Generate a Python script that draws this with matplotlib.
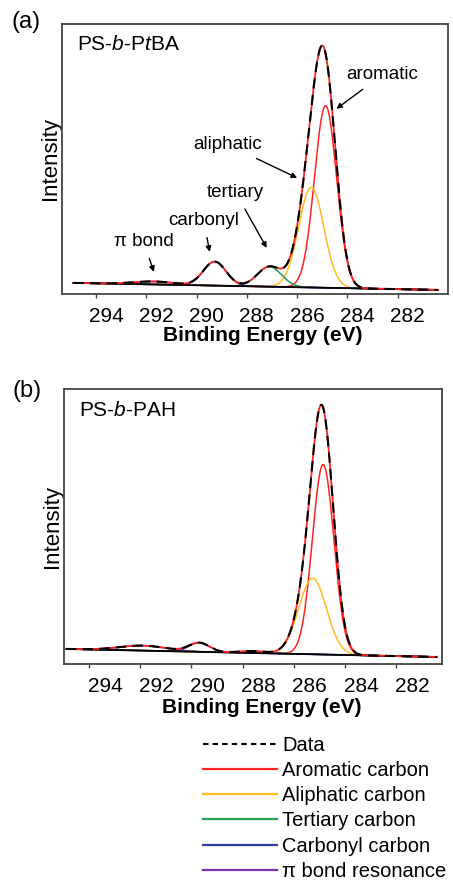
import numpy as np
import matplotlib
matplotlib.use("Agg")
import matplotlib.pyplot as plt
from matplotlib.lines import Line2D
from matplotlib.transforms import ScaledTranslation

plt.rcParams['font.family'] = ['Liberation Sans', 'DejaVu Sans']
plt.rcParams['mathtext.fontset'] = 'custom'
plt.rcParams['mathtext.rm'] = 'Liberation Sans'
plt.rcParams['mathtext.it'] = 'Liberation Sans:italic'

# energy axis (eV)
energy = np.linspace(294.9, 280.4, 600)

# component names / colours (legend order)
names = ["Aromatic carbon", "Aliphatic carbon", "Tertiary carbon",
         "Carbonyl carbon", "\u03c0 bond resonance"]
colors = ["#ff2222", "#ffbb22", "#22a050", "#2a3d9e", "#7a32a8"]
ticks = [294, 292, 290, 288, 286, 284, 282]

# peak fits: centre (eV), height, sigma (eV)
centers_a = [284.87, 285.44, 287.10, 289.28, 291.70]
heights_a = [182, 100, 20, 24, 3]
sigmas_a = [0.44, 0.50, 0.48, 0.45, 0.80]
base_a = [11, 4]   # background at 294.9 and 280.4 eV

centers_b = [284.85, 285.26, 287.60, 289.69, 291.90]
heights_b = [190, 76, 2, 9, 5]
sigmas_b = [0.42, 0.54, 0.50, 0.40, 0.90]
base_b = [15, 7]


def gauss(x, c, h, s):
    return h * np.exp(-(x - c) ** 2 / (2 * s ** 2))


def panel(ax, centers, heights, sigmas, base, title, notes, xlim, ytop, lab_off, xlab_pos):
    bg = np.interp(energy, [280.4, 294.9], [base[1], base[0]])
    total = bg.copy()
    for c, h, s, col in zip(centers, heights, sigmas, colors):
        comp = gauss(energy, c, h, s)
        total += comp
        ax.plot(energy, comp + bg, color=col, lw=1.1)
    ax.plot(energy, bg, color="black", lw=1.3)
    ax.plot(energy, total, color="#ff2222", lw=1.3)
    ax.plot(energy, total, color="black", lw=1.5, ls=(0, (5, 3)))

    ax.set_xlim(*xlim)
    ax.set_ylim(0, ytop)
    ax.set_yticks([])
    ax.set_xticks(ticks)
    ax.tick_params(axis='x', direction='out', length=3, width=1,
                   labelsize=15, pad=6.3, color='#444444')
    off = ScaledTranslation(lab_off / 100, 0, ax.figure.dpi_scale_trans)
    for lab in ax.get_xticklabels():
        lab.set_transform(lab.get_transform() + off)
    for sp in ax.spines.values():
        sp.set_color('#444444')
        sp.set_linewidth(1.3)
    ax.set_xlabel("Binding Energy (eV)", fontsize=15, fontweight='bold', va='top')
    ax.xaxis.set_label_coords(*xlab_pos)
    ax.set_ylabel("Intensity", fontsize=16, labelpad=0.5)
    ax.text(0.039, 0.922, title, transform=ax.transAxes, fontsize=15, va='center')
    for txt, xy, xytext in notes:
        ax.annotate(txt, xy=xy, xytext=xytext, fontsize=13.5, ha='center', va='center',
                    arrowprops=dict(arrowstyle='-|>', color='black', lw=1,
                                    mutation_scale=8, shrinkA=4, shrinkB=0))


fig = plt.figure(figsize=(4.53, 8.8), dpi=100)
ax1 = fig.add_axes([0.137, 0.666, 0.852, 0.307])
ax2 = fig.add_axes([0.141, 0.2455, 0.835, 0.3125])

notes_a = [
    ("aromatic", (284.44, 185), (282.61, 219)),
    ("aliphatic", (286.0, 116), (288.76, 149)),
    ("tertiary", (287.21, 46), (288.44, 101)),
    ("carbonyl", (289.48, 42), (289.71, 73)),
    ("\u03c0 bond", (291.7, 22), (292.1, 52)),
]
panel(ax1, centers_a, heights_a, sigmas_a, base_a, "PS-$\\it{b}$-P$\\it{t}$BA", notes_a,
      (295.35, 280.0), 270, 10, (0.521, -0.117))
panel(ax2, centers_b, heights_b, sigmas_b, base_b, "PS-$\\it{b}$-PAH", [],
      (294.98, 280.2), 275, 16, (0.522, -0.125))

fig.text(0.026, 0.975, "(a)", fontsize=17, va='center')
fig.text(0.028, 0.556, "(b)", fontsize=17, va='center')

handles = [Line2D([], [], color='black', lw=1.5, ls=(0, (2.6, 2)))]
handles += [Line2D([], [], color=c, lw=1.6) for c in colors]
fig.legend(handles, ["Data"] + names, loc='upper left', bbox_to_anchor=(0.448, 0.164),
           frameon=False, fontsize=14.5, handlelength=3.7, handletextpad=0.25,
           labelspacing=0.31, borderpad=0, borderaxespad=0)

fig.savefig("out.png", dpi=100)
